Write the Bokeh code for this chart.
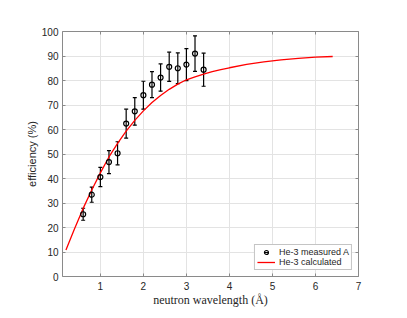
import math
from bokeh.plotting import figure
from bokeh.models import (ColumnDataSource, Whisker, TeeHead, LinearAxis, FixedTicker,
                          Legend, LegendItem, Range1d, CustomLabelingPolicy)
from bokeh.embed import file_html
from bokeh.resources import INLINE

# measured data
wavelength = [0.6, 0.8, 1.0, 1.2, 1.4, 1.6, 1.8, 2.0, 2.2, 2.4, 2.6, 2.8, 3.0, 3.2, 3.4]
efficiency = [25.4, 33.4, 40.6, 46.7, 50.3, 62.4, 67.4, 74.0, 78.3, 81.2, 85.6, 85.0, 86.5, 91.0, 84.4]
error = [2.45, 3.1, 3.95, 4.7, 4.7, 5.9, 5.65, 5.7, 5.3, 5.55, 5.95, 6.25, 6.55, 7.25, 6.75]

# calculated curve
calc_wavelength = [0.2, 0.4, 0.6, 0.8, 1.0, 1.2, 1.4, 1.6, 1.8, 2.0, 2.2, 2.4, 2.6, 2.8,
                   3.0, 3.2, 3.4, 3.6, 3.8, 4.0, 4.4, 4.8, 5.2, 5.6, 6.0, 6.4]
calc_efficiency = [10.8, 19.5, 27.8, 35.3, 42.3, 48.8, 54.3, 59.3, 63.7, 67.6, 71.0, 73.9, 76.4, 78.5,
                   80.3, 81.5, 82.6, 83.6, 84.4, 85.2, 86.6, 87.6, 88.4, 89.0, 89.5, 89.8]

x_ticks = [1, 2, 3, 4, 5, 6, 7]
y_ticks = [0, 10, 20, 30, 40, 50, 60, 70, 80, 90, 100]

AXIS_COLOR = "#8a8a8a"
LABEL_COLOR = "#262626"
GRID_COLOR = "#e3e3e3"

p = figure(width=398, height=310, output_backend="svg", toolbar_location=None,
           x_range=Range1d(0.12, 7), y_range=Range1d(0, 100),
           min_border_left=62, min_border_right=40, min_border_top=31, min_border_bottom=34,
           x_axis_label="neutron wavelength (Å)", y_axis_label="efficiency (%)")
p.outline_line_color = None
p.background_fill_color = "white"

for ax in (p.xaxis[0], p.yaxis[0]):
    ax.axis_line_color = AXIS_COLOR
    ax.major_tick_line_color = AXIS_COLOR
    ax.major_tick_in = 3
    ax.major_tick_out = 0
    ax.minor_tick_line_color = None
    ax.major_label_text_font = "Liberation Sans"
    ax.major_label_text_font_size = "10px"
    ax.major_label_text_color = LABEL_COLOR
    ax.axis_label_text_font_style = "normal"
    ax.axis_label_text_color = LABEL_COLOR

p.xaxis[0].ticker = FixedTicker(ticks=x_ticks)
p.yaxis[0].ticker = FixedTicker(ticks=y_ticks)
p.xaxis[0].major_label_standoff = 5
p.yaxis[0].major_label_standoff = 4
p.xaxis[0].axis_label_text_font = "Liberation Serif"
p.xaxis[0].axis_label_text_font_size = "12px"
p.xaxis[0].axis_label_standoff = 0
p.yaxis[0].axis_label_text_font = "Liberation Sans"
p.yaxis[0].axis_label_text_font_size = "11px"
p.yaxis[0].axis_label_standoff = 1

top_axis = LinearAxis(ticker=FixedTicker(ticks=x_ticks))
right_axis = LinearAxis(ticker=FixedTicker(ticks=y_ticks))
for ax in (top_axis, right_axis):
    ax.axis_line_color = AXIS_COLOR
    ax.major_tick_line_color = AXIS_COLOR
    ax.major_tick_in = 3
    ax.major_tick_out = 0
    ax.minor_tick_line_color = None
    ax.major_label_policy = CustomLabelingPolicy(code="return []")
    ax.major_label_standoff = 0
p.add_layout(top_axis, "above")
p.add_layout(right_axis, "right")

p.xgrid.ticker = FixedTicker(ticks=x_ticks)
p.ygrid.ticker = FixedTicker(ticks=y_ticks)
p.xgrid.grid_line_color = GRID_COLOR
p.ygrid.grid_line_color = GRID_COLOR

upper = [v + e for v, e in zip(efficiency, error)]
lower = [v - e for v, e in zip(efficiency, error)]
src = ColumnDataSource(data=dict(x=wavelength, y=efficiency, upper=upper, lower=lower))

calc_r = p.line(calc_wavelength, calc_efficiency, line_color="#ff0000", line_width=1.3)

whisk = Whisker(base="x", upper="upper", lower="lower", source=src, dimension="height",
                line_color="black", line_width=1.2,
                upper_head=TeeHead(size=4, line_color="black", line_width=1.2),
                lower_head=TeeHead(size=4, line_color="black", line_width=1.2))
p.add_layout(whisk)

pts = p.scatter("x", "y", source=src, marker="circle", size=5, fill_color=None,
                line_color="black", line_width=1.2)

# legend helper: vertical bar glyph (not drawn in plot area)
bar_r = p.scatter([float("nan")], [float("nan")], marker="dash", angle=math.pi / 2, size=11,
                  line_color="black", line_width=1.2)

legend = Legend(items=[LegendItem(label="He-3 measured A", renderers=[bar_r, pts]),
                       LegendItem(label="He-3 calculated", renderers=[calc_r])],
                location="bottom_right")
legend.margin = 6
legend.padding = 2
legend.spacing = 0
legend.label_height = 10
legend.glyph_height = 10
legend.glyph_width = 18
legend.label_standoff = 4
legend.label_text_font = "Liberation Sans"
legend.label_text_font_size = "9px"
legend.label_text_color = LABEL_COLOR
legend.border_line_color = "#8a8a8a"
legend.border_line_width = 1
legend.background_fill_color = "white"
legend.background_fill_alpha = 1
p.add_layout(legend)

open("out.html", "w").write(file_html(p, INLINE))
